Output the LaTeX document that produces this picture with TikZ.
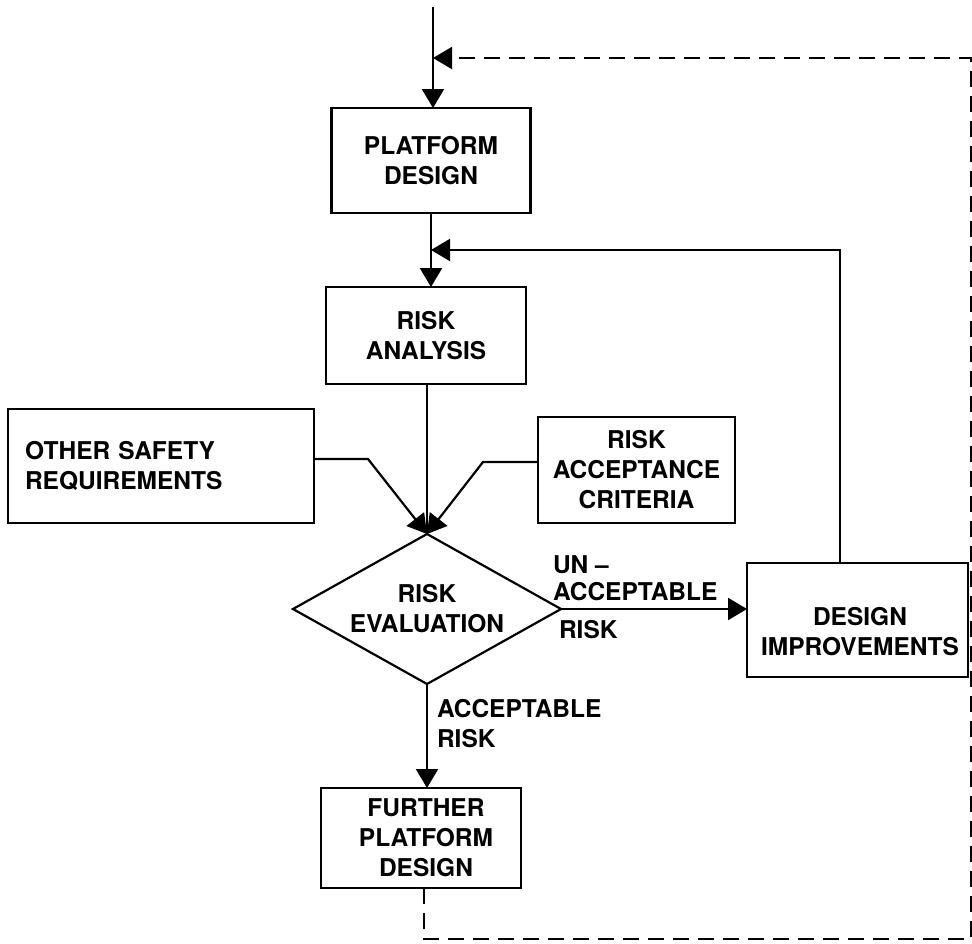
\documentclass[tikz,border=0pt]{standalone}
\usepackage{fontspec}
\setmainfont{TeX Gyre Heros}
\usetikzlibrary{arrows.meta,shapes.geometric}
\begin{document}
\begin{tikzpicture}[x=1pt,y=-1pt,
  every node/.style={font=\fontsize{24.5}{30}\selectfont\bfseries, inner sep=0pt, outer sep=0pt},
  ln/.style={line width=2.2pt},
  box/.style={draw, line width=2.2pt, align=center},
  arr/.style={ln, -{Triangle[length=19pt,width=22pt]}},
  dsh/.style={ln, dash pattern=on 16pt off 9pt}]
\useasboundingbox (0,0) rectangle (972,943);
% boxes
\node[box, minimum width=199pt, minimum height=105pt] (pd) at (431,160.5) {PLATFORM\\DESIGN};
\node[box, minimum width=200pt, minimum height=97pt] (ra) at (426,335.5) {RISK\\ANALYSIS};
\node[box, minimum width=306pt, minimum height=114pt, text width=272pt, align=left] (osr) at (161,466) {OTHER SAFETY\\REQUIREMENTS};
\node[box, minimum width=197pt, minimum height=106pt] (rac) at (636.5,470) {RISK\\ACCEPTANCE\\CRITERIA};
\node[draw, diamond, ln, shape aspect=1.79, minimum width=268pt, minimum height=150pt, align=center] (dia) at (427,609) {RISK\\EVALUATION};
\node[box, minimum width=221pt, minimum height=114pt] (di) at (857.5,620) {};
\node[align=center] (ditxt) at (860,632) {DESIGN\\IMPROVEMENTS};
\node[box, minimum width=200pt, minimum height=100pt] (fpd) at (421,838) {};
\node[align=center] (fpdtxt) at (426,838) {FURTHER\\PLATFORM\\DESIGN};
% labels
\node[anchor=west] (un) at (553,565) {UN –};
\node[anchor=west] (unacc) at (553,592) {ACCEPTABLE};
\node[anchor=west] (unrisk) at (559,630) {RISK};
\node[anchor=west, align=left] (acc) at (437,724) {ACCEPTABLE\\RISK};
% coordinates
\coordinate (start) at (433,7);
\coordinate (ret) at (433,58);
\coordinate (fb) at (431,250);
\coordinate (br) at (971,939);
\coordinate (tr) at (971,58);
% connectors
\draw[arr] (start) -- (start |- pd.north);
\draw[arr] (pd.south) -- (pd.south |- ra.north);
\draw[arr] ([xshift=-17.5pt]di.north) |- (fb);
\draw[ln] (dia.north |- ra.south) -- (dia.north);
\draw[arr] ([yshift=7pt]osr.east) -- ++(54,0) -- (dia.north);
\draw[arr] ([yshift=8pt]rac.west) -- ++(-55,0) -- (dia.north);
\draw[arr] (dia.east) -- (dia.east -| di.west);
\draw[arr] (dia.south) -- (dia.south |- fpd.north);
\draw[dsh, -{Triangle[length=19pt,width=22pt]}] ([xshift=3pt]fpd.south) |- (br) -- (tr) -- (ret);
\end{tikzpicture}
\end{document}
